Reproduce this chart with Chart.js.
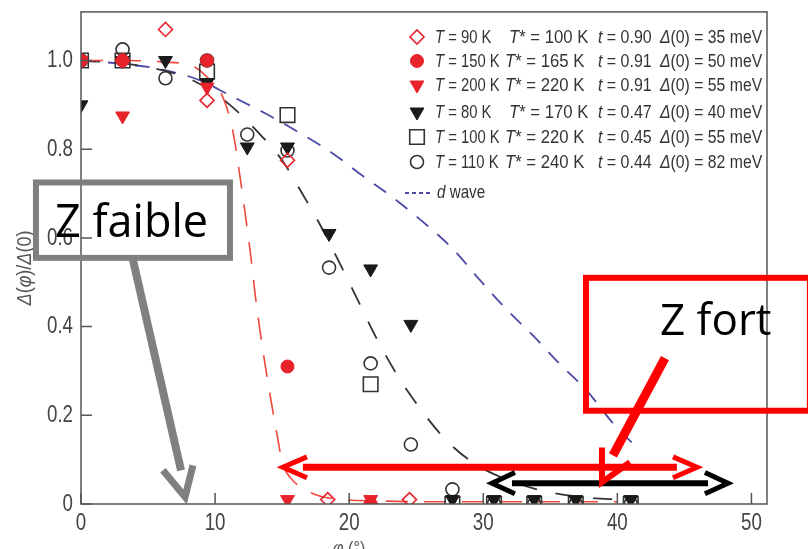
<!DOCTYPE html>
<html>
<head>
<meta charset="utf-8">
<script src="https://cdn.jsdelivr.net/npm/chart.js@4.4.1/dist/chart.umd.min.js"></script>
<style>
  html, body { margin: 0; padding: 0; background: #fff; overflow: hidden; }
  #wrap { width: 808px; height: 549px; position: relative; }
</style>
</head>
<body>
<div id="wrap"><canvas id="c" width="808" height="549"></canvas></div>
<script>
// ---- measured gap ratio Δ(φ)/Δ(0) versus Fermi-surface angle φ (degrees) ----
const phi90  = [0, 3.1, 6.3, 9.4, 15.4, 18.4, 21.6, 24.5];
const gap90  = [1.0, 1.0, 1.07, 0.91, 0.775, 0.01, 0.0, 0.01];

const phi150 = [0, 3.1, 9.4, 15.4, 21.6];
const gap150 = [1.0, 1.0, 1.0, 0.31, 0.0];

const phi200 = [0, 3.1, 9.4, 15.4, 21.6];
const gap200 = [1.0, 0.875, 0.94, 0.01, 0.01];

const phi80  = [0, 3.1, 6.3, 9.4, 12.4, 15.4, 18.5, 21.6, 24.6, 27.7, 30.8, 33.8, 36.9, 41.0];
const gap80  = [0.90, 1.0, 1.0, 0.95, 0.805, 0.805, 0.61, 0.53, 0.405, 0.01, 0.01, 0.01, 0.01, 0.01];

const phi100 = [0, 3.1, 9.4, 15.4, 21.6, 27.7, 30.8, 33.8, 36.9, 41.0];
const gap100 = [1.0, 1.0, 0.975, 0.877, 0.27, 0.0, 0.0, 0.0, 0.0, 0.0];

const phi110 = [0, 3.1, 6.3, 9.4, 12.4, 15.4, 18.5, 21.6, 24.6, 27.7, 30.8, 33.8, 36.9, 41.0];
const gap110 = [1.0, 1.025, 0.96, 1.0, 0.833, 0.797, 0.533, 0.317, 0.134, 0.033, 0.0, 0.0, 0.0, 0.0];

// ---- guide curves ----
const fitHighX = [0, 3, 6, 8.5, 9.5, 10.4, 11.3, 11.85, 12.4, 12.7, 13.0, 13.7, 14.6, 15.05, 15.6, 16.3, 17.8, 19.5, 22, 26, 30, 35, 40];
const fitHighY = [1.0, 1.0, 0.997, 0.985, 0.96, 0.93, 0.845, 0.74, 0.62, 0.55, 0.47, 0.32, 0.16, 0.09, 0.06, 0.04, 0.018, 0.01, 0.007, 0.005, 0.005, 0.005, 0.005];

const fitLowX = [0, 4, 8.35, 11.1, 13.3, 15, 16.5, 18, 19.5, 20.8, 22.1, 23.6, 25.3, 27.1, 29.2, 31.5, 34.4, 37.2, 40];
const fitLowY = [1.0, 0.99, 0.955, 0.90, 0.835, 0.775, 0.70, 0.62, 0.53, 0.45, 0.37, 0.29, 0.215, 0.148, 0.094, 0.058, 0.03, 0.016, 0.01];

const dWaveX = [0, 2.9, 6.0, 8.9, 11.2, 13.8, 16.3, 18.8, 21.0, 23.3, 25.5, 27.7, 29.6, 31.7, 33.7, 35.7, 37.7, 39.9, 41.1];
const dWaveY = [1.0, 0.993, 0.98, 0.955, 0.92, 0.88, 0.837, 0.79, 0.74, 0.69, 0.636, 0.576, 0.51, 0.44, 0.38, 0.316, 0.256, 0.174, 0.138];

// ---- axis ticks ----
const xTicks = [0, 10, 20, 30, 40, 50];
const xTickLabels = ['0', '10', '20', '30', '40', '50'];
const yTicks = [0, 0.2, 0.4, 0.6, 0.8, 1.0];
const yTickLabels = ['0', '0.2', '0.4', '0.6', '0.8', '1.0'];

// ---- legend parameters ----
const legT     = [90, 150, 200, 80, 100, 110];
const legTstar = [100, 165, 220, 170, 220, 240];
const legt     = ['0.90', '0.91', '0.91', '0.47', '0.45', '0.44'];
const legD0    = [35, 50, 55, 40, 55, 82];

const RED = '#e8232b';
const BLUE = '#4b4ba6';
const SANS = "'Liberation Sans', Arial, sans-serif";
const SQUEEZE = 0.8;   // condensed look for the journal-style lettering

const pts = (xs, ys) => xs.map((x, i) => ({ x, y: ys[i] }));

const markerStyles = [
  { pointStyle: 'rectRot',  radius: 7,    rotation: 0,   fill: 'rgba(0,0,0,0)', stroke: RED, bw: 1.6 },
  { pointStyle: 'circle',   radius: 6.5,  rotation: 0,   fill: RED,             stroke: RED, bw: 1 },
  { pointStyle: 'triangle', radius: 8,    rotation: 180, fill: RED,             stroke: RED, bw: 1 },
  { pointStyle: 'triangle', radius: 8,    rotation: 180, fill: '#1a1a1a',       stroke: '#1a1a1a', bw: 1 },
  { pointStyle: 'rect',     radius: 10.3, rotation: 0,   fill: 'rgba(0,0,0,0)', stroke: '#333', bw: 1.6 },
  { pointStyle: 'circle',   radius: 6.5,  rotation: 0,   fill: 'rgba(0,0,0,0)', stroke: '#333', bw: 1.6 }
];
const seriesPts = [pts(phi90, gap90), pts(phi150, gap150), pts(phi200, gap200),
                   pts(phi80, gap80), pts(phi100, gap100), pts(phi110, gap110)];

const markerSets = seriesPts.map((data, i) => {
  const s = markerStyles[i];
  return {
    data, showLine: false, clip: 0, order: 1,
    pointStyle: s.pointStyle, pointRadius: s.radius, pointRotation: s.rotation,
    pointBackgroundColor: s.fill, pointBorderColor: s.stroke, pointBorderWidth: s.bw
  };
});

const lineSet = (xs, ys, color, dash, w) => ({
  data: pts(xs, ys), showLine: true, pointRadius: 0, clip: 0, order: 5,
  borderColor: color, borderWidth: w, borderDash: dash, cubicInterpolationMode: 'monotone', fill: false
});

// ---- text helpers (horizontally condensed) ----
function rich(ctx, x, y, parts, size, fam, sx = 1) {
  let cx = x;
  for (const [txt, it] of parts) {
    ctx.font = (it ? 'italic ' : '') + size + 'px ' + fam;
    ctx.save(); ctx.translate(cx, y); ctx.scale(sx, 1);
    ctx.fillText(txt, 0, 0);
    ctx.restore();
    cx += ctx.measureText(txt).width * sx;
  }
  return cx;
}
function richWidth(ctx, parts, size, fam, sx = 1) {
  let w = 0;
  for (const [txt, it] of parts) {
    ctx.font = (it ? 'italic ' : '') + size + 'px ' + fam;
    w += ctx.measureText(txt).width * sx;
  }
  return w;
}

// callouts, given in axis units
const callouts = {
  weak: { box: [-3.36, 0.725, 11.11, 0.555], label: 'Z faible', at: [-1.94, 0.602],
          shaft: [[3.88, 0.550], [7.46, 0.076]], head: [[6.11, 0.076], [7.76, 0.016], [8.35, 0.087]] },
  strong: { box: [37.66, 0.510, 54.36, 0.2103], label: 'Z fort', at: [43.18, 0.380],
          shaft: [[43.55, 0.329], [39.67, 0.1096]], head: [[38.85, 0.1275], [38.85, 0.049], [40.94, 0.094]] },
  redSpan: { y: 0.0828, from: 16.55, to: 44.44, tipL: 15.06, tipR: 45.94, armL: 16.85, armR: 44.15, dy: 0.0235 },
  blackSpan: { y: 0.047, from: 32.14, to: 46.76, tipL: 30.65, tipR: 48.25, armL: 32.36, armR: 46.53, dy: 0.024 }
};

const decorations = {
  id: 'decorations',
  afterDatasetsDraw(chart) {
    const { ctx, chartArea: a, scales } = chart;
    const X = v => scales.x.getPixelForValue(v);
    const Y = v => scales.y.getPixelForValue(v);
    ctx.save();

    // frame
    ctx.strokeStyle = '#555';
    ctx.lineWidth = 1.5;
    ctx.strokeRect(a.left, a.top, a.right - a.left, a.bottom - a.top);
    // inward tick marks
    ctx.beginPath();
    xTicks.forEach(v => { const px = X(v); ctx.moveTo(px, a.bottom); ctx.lineTo(px, a.bottom - 11); });
    yTicks.forEach(v => { const py = Y(v); ctx.moveTo(a.left, py); ctx.lineTo(a.left + 11, py); });
    ctx.stroke();

    // tick labels
    ctx.fillStyle = '#444';
    ctx.textBaseline = 'middle';
    yTicks.forEach((v, i) => {
      const w = richWidth(ctx, [[yTickLabels[i], false]], 24, SANS, 0.78);
      rich(ctx, a.left - 8 - w, Y(v), [[yTickLabels[i], false]], 24, SANS, 0.78);
    });
    ctx.textBaseline = 'alphabetic';
    xTicks.forEach((v, i) => {
      const w = richWidth(ctx, [[xTickLabels[i], false]], 24, SANS, 0.78);
      rich(ctx, X(v) - w / 2, a.bottom + 26, [[xTickLabels[i], false]], 24, SANS, 0.78);
    });

    // axis titles
    ctx.fillStyle = '#555';
    ctx.textBaseline = 'middle';
    const yt = [['Δ', true], ['(', false], ['φ', true], [')/', false], ['Δ', true], ['(0)', false]];
    const ytw = richWidth(ctx, yt, 20, SANS, 0.9);
    ctx.save();
    ctx.translate(25, 268);
    ctx.rotate(-Math.PI / 2);
    rich(ctx, -ytw / 2, 0, yt, 20, SANS, 0.9);
    ctx.restore();
    ctx.textBaseline = 'alphabetic';
    const xt = [['φ', true], [' (°)', false]];
    const xtw = richWidth(ctx, xt, 19, SANS, 0.85);
    rich(ctx, X(20) - xtw / 2, 554, xt, 19, SANS, 0.85);

    // legend
    const rowsY = [37, 61, 85, 112, 137, 162];
    ctx.textBaseline = 'middle';
    rowsY.forEach((ry, i) => {
      const s = markerStyles[i];
      ctx.fillStyle = s.fill; ctx.strokeStyle = s.stroke; ctx.lineWidth = s.bw;
      Chart.helpers.drawPoint(ctx, { pointStyle: s.pointStyle, radius: s.radius, rotation: s.rotation, borderWidth: s.bw }, 417, ry);
      ctx.fillStyle = '#333';
      const cy = ry + 1;
      rich(ctx, 435, cy, [['T', true], [' = ' + legT[i] + ' K', false]], 19, SANS, 0.78);
      rich(ctx, legT[i] >= 100 ? 505 : 509, cy, [['T', true], ['* = ' + legTstar[i] + ' K', false]], 19, SANS, 0.88);
      rich(ctx, 598, cy, [['t', true], [' = ' + legt[i], false]], 19, SANS, 0.84);
      rich(ctx, 660, cy, [['Δ', true], ['(0) = ' + legD0[i] + ' meV', false]], 19, SANS, 0.83);
    });
    ctx.strokeStyle = BLUE; ctx.lineWidth = 1.8; ctx.setLineDash([4, 3]);
    ctx.beginPath(); ctx.moveTo(405, 193); ctx.lineTo(431, 193); ctx.stroke();
    ctx.setLineDash([]);
    ctx.fillStyle = '#333';
    rich(ctx, 437, 193, [['d', true], [' wave', false]], 19, SANS, SQUEEZE);

    // callouts
    ctx.lineJoin = 'miter'; ctx.lineCap = 'butt';
    const poly = (p, color, w) => {
      ctx.strokeStyle = color; ctx.lineWidth = w; ctx.beginPath();
      p.forEach(([u, v], k) => k ? ctx.lineTo(X(u), Y(v)) : ctx.moveTo(X(u), Y(v)));
      ctx.stroke();
    };
    const box = (b, color, w) => {
      ctx.strokeStyle = color; ctx.lineWidth = w;
      ctx.strokeRect(X(b[0]), Y(b[1]), X(b[2]) - X(b[0]), Y(b[3]) - Y(b[1]));
    };
    const span = (s, color, w, hw) => {
      poly([[s.from, s.y], [s.to, s.y]], color, w);
      poly([[s.armL, s.y + s.dy], [s.tipL, s.y], [s.armL, s.y - s.dy]], color, hw);
      poly([[s.armR, s.y + s.dy], [s.tipR, s.y], [s.armR, s.y - s.dy]], color, hw);
    };

    const wk = callouts.weak, st = callouts.strong;
    box(wk.box, '#808080', 6);
    poly(wk.shaft, '#808080', 8);
    poly(wk.head, '#808080', 7);
    ctx.fillStyle = '#000';
    ctx.textBaseline = 'alphabetic';
    ctx.font = "45px 'Open Sans', sans-serif";
    ctx.fillText(wk.label, X(wk.at[0]), Y(wk.at[1]));

    box(st.box, '#ff0000', 6);
    ctx.font = "44px 'Open Sans', sans-serif";
    ctx.fillText(st.label, X(st.at[0]), Y(st.at[1]));

    span(callouts.redSpan, '#ff0000', 7, 5);
    span(callouts.blackSpan, '#000000', 6, 5);
    poly(st.shaft, '#ff0000', 9);
    poly(st.head, '#ff0000', 6);

    ctx.restore();
  }
};

new Chart(document.getElementById('c'), {
  type: 'scatter',
  data: {
    datasets: [
      ...markerSets,
      lineSet(fitHighX, fitHighY, '#f0483e', [22, 16], 1.6),
      lineSet(fitLowX, fitLowY, '#333', [19, 19], 1.8),
      lineSet(dWaveX, dWaveY, BLUE, [15, 12], 1.8)
    ]
  },
  options: {
    responsive: false,
    animation: false,
    events: [],
    layout: { padding: { top: 8, right: 41, left: 0, bottom: 0 } },
    plugins: { legend: { display: false }, tooltip: { enabled: false } },
    scales: {
      x: {
        type: 'linear', min: 0, max: 51.16,
        grid: { display: false, drawTicks: false },
        border: { display: false },
        afterBuildTicks: s => { s.ticks = xTicks.map(v => ({ value: v })); },
        afterFit: s => { s.height = 45; },
        ticks: { display: false }
      },
      y: {
        type: 'linear', min: 0, max: 1.1096,
        grid: { display: false, drawTicks: false },
        border: { display: false },
        afterBuildTicks: s => { s.ticks = yTicks.map(v => ({ value: v })); },
        afterFit: s => { s.width = 81; },
        ticks: { display: false }
      }
    }
  },
  plugins: [decorations]
});
</script>
</body>
</html>
